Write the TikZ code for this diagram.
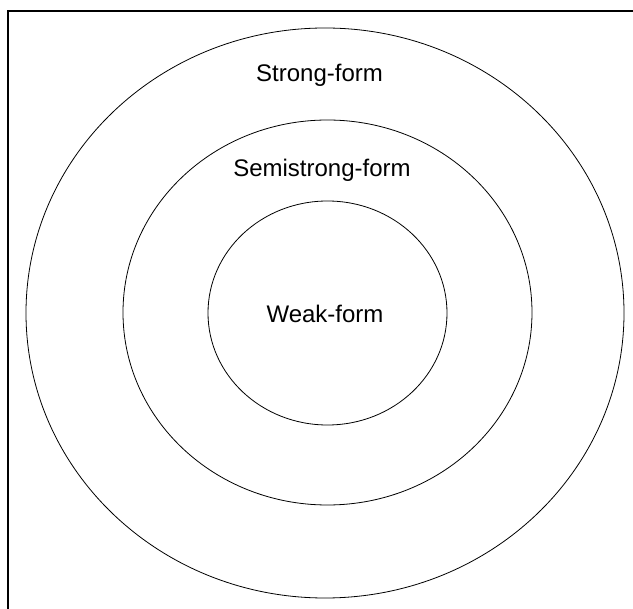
\documentclass[tikz,border=0pt]{standalone}
\usepackage{fontspec}
\setmainfont{Liberation Sans}
\usetikzlibrary{shapes.geometric}
\begin{document}
\begin{tikzpicture}[x=1pt,y=-1pt,
  ring/.style={ellipse,draw,line width=0.8pt,inner sep=0pt},
  lbl/.style={anchor=base,font=\fontsize{24}{28}\selectfont,inner sep=0pt}]
\useasboundingbox (0,0) rectangle (633,609);
\coordinate (fb) at (8,609);
\coordinate (fc) at (8,11);
\coordinate (fr) at (633,11);
\draw[line width=1.6pt] (fb) -- (fc) -- (fr);
\node[ring,minimum width=598pt,minimum height=570pt] (outer) at (325,313) {};
\node[ring,minimum width=409pt,minimum height=385pt] (middle) at (327.5,312.5) {};
\node[ring,minimum width=239pt,minimum height=224pt] (inner) at (327.5,313) {};
\node[lbl] (strong) at (319.5,82) {Strong-form};
\node[lbl] (semi) at (322,177) {Semistrong-form};
\node[lbl] (weak) at (325,323) {Weak-form};
\end{tikzpicture}
\end{document}
